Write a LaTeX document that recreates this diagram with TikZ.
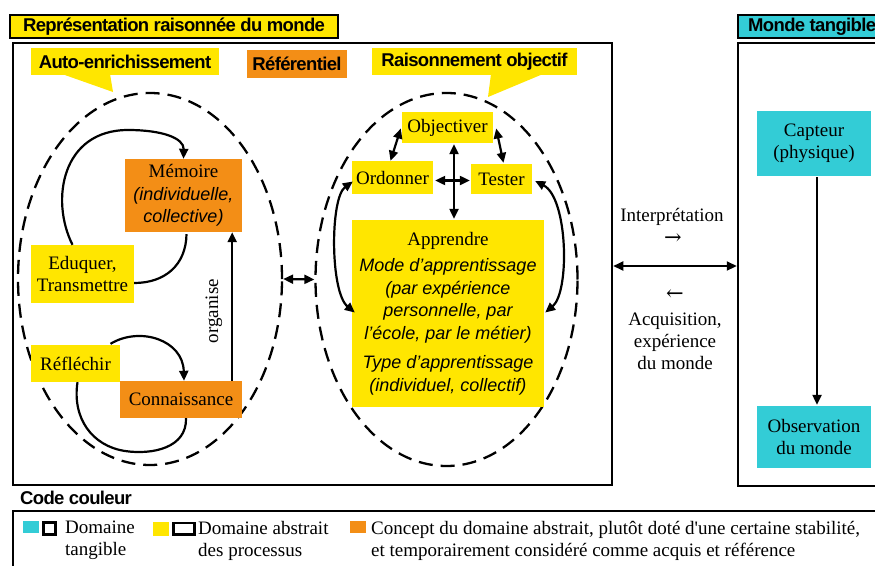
\documentclass[tikz,border=0pt]{standalone}
\usepackage{fontspec}
\setmainfont{Liberation Serif}
\setsansfont{Liberation Sans}
\newfontfamily\headfont[LetterSpace=-3.5]{Liberation Sans Bold}
\newfontfamily\arrowfont{DejaVu Serif}
\newfontfamily\plainserif{Liberation Serif}
\usetikzlibrary{arrows.meta,shapes.geometric,calc}
\definecolor{cYellow}{RGB}{255,230,0}
\definecolor{cOrange}{RGB}{243,142,22}
\definecolor{cCyan}{RGB}{51,204,214}
\newcommand{\itsans}{\sffamily\itshape\fontsize{18}{22.5}\selectfont}
\newcommand{\serifnormal}{\rmfamily\upshape\fontsize{19}{22}\selectfont}
\newcommand{\straightq}{{\plainserif'}}

\begin{document}
\begin{tikzpicture}[x=1pt,y=-1pt,
  every node/.style={font=\serifnormal, inner sep=0pt, align=center},
  ybox/.style={fill=cYellow},
  obox/.style={fill=cOrange},
  cbox/.style={fill=cCyan},
  frame/.style={draw=black, line width=2.5pt},
  headtext/.style={font=\headfont\fontsize{18.5}{20}\selectfont},
  glyph/.style={font=\arrowfont\fontsize{21}{21}\selectfont},
  tip/.style={-{Triangle[length=10pt,width=9pt]}},
  arr/.style={line width=2.2pt, -{Triangle[length=10pt,width=9pt]}},
  darr/.style={line width=2.2pt, {Triangle[length=10pt,width=9pt]}-{Triangle[length=10pt,width=9pt]}},
  loop/.style={line width=2.2pt},
  zone/.style={ellipse, draw=black, line width=2.3pt, dash pattern=on 14pt off 8pt, inner sep=0pt}
]
\useasboundingbox (0,0) rectangle (875,565);

% --- frames and their headings
\node[frame, minimum width=599, minimum height=442] (main) at (312.5,264) {};
\node[frame, minimum width=170, minimum height=443] (tang) at (823,264.5) {};
\node[frame, fill=cYellow, minimum width=328, minimum height=23] (t1) at (174,26.5) {};
\node[headtext] (t1txt) at (t1) {Représentation raisonnée du monde};
\node[frame, fill=cCyan, minimum width=170, minimum height=23] (t2) at (823,26.5) {};
\node[headtext, anchor=west] (t2txt) at (748,26.5) {Monde tangible};

% --- callouts
\fill[cYellow] (62,74) -- (113,92) -- (110,74) -- cycle;
\node[ybox, headtext, minimum width=188, minimum height=27] (auto) at (125,61.5) {Auto-enrichissement};
\node[obox, headtext, minimum width=100, minimum height=28] (refer) at (297,64) {Référentiel};
\fill[cYellow] (491,74) -- (488,97) -- (543,74) -- cycle;
\node[ybox, headtext, minimum width=205, minimum height=27] (raison) at (474.5,61.5) {Raisonnement objectif};

% --- the two dashed zones
\node[zone, minimum width=264, minimum height=372] (lell) at (150,279) {};
\node[zone, minimum width=262, minimum height=373] (rell) at (446.5,279.5) {};
\draw[darr] (lell.east) -- (rell.west);

% --- auto-enrichissement
\node[obox, minimum width=117, minimum height=73, font=\itsans] (mem) at (183.5,195.5)
  {{\serifnormal Mémoire}\\(individuelle,\\collective)};
\node[ybox, minimum width=103, minimum height=58] (edu) at (82.5,274) {Eduquer,\\Transmettre};
\node[ybox, minimum width=89, minimum height=37] (ref) at (75.5,363.5) {Réfléchir};
\node[obox, minimum width=122, minimum height=37] (conn) at (181,399.5) {Connaissance};

\draw[loop] ($(mem.south)+(3,2)$) .. controls (186,265) and (165,283) .. ($(edu.east)+(0,9)$);
\draw[loop, tip] ($(edu.north)+(-10,0)$) .. controls (50,200) and (62,130) .. (128,130)
  .. controls (162,130) and (184,138) .. (mem.north);
\draw[loop] ($(conn.south)+(5,0)$) .. controls (187,448) and (152,455) .. (125,451)
  .. controls (92,446) and (72,418) .. ($(ref.south)+(2,0)$);
\draw[loop, tip] ($(ref.north)+(35,-1)$) .. controls (140,326) and (183,340) .. ($(conn.north)+(3,0)$);

\draw[arr] ($(conn.north east)+(-10,0)$) -- ($(mem.south east)+(-10,0)$);
\node[rotate=90] (orgl) at (214,311) {organise};

% --- raisonnement objectif
\node[ybox, minimum width=91, minimum height=31] (obj) at (447.5,127.5) {Objectiver};
\node[ybox, minimum width=81, minimum height=33] (ord) at (392.5,177.5) {Ordonner};
\node[ybox, minimum width=61, minimum height=30] (tes) at (501.5,179) {Tester};
\node[ybox, minimum width=192, minimum height=187, font=\itsans] (app) at (448,313.5)
  {{\serifnormal Apprendre}\\[4pt]Mode d’apprentissage\\(par expérience\\personnelle, par\\l’école, par le métier)\\[7pt]Type d’apprentissage\\(individuel, collectif)};

\draw[darr] ($(obj.west)+(-1,1)$) -- ($(ord.north)+(-2,0)$);
\draw[darr] ($(obj.east)+(3,1)$) -- ($(tes.north)+(2,-1)$);
\draw[darr] ($(obj.south)+(6.5,1)$) -- ($(obj.south |- app.north)+(6.5,-1)$);
\draw[darr] ($(ord.east)+(2,3)$) -- ($(ord.east -| tes.west)+(-1,3)$);
\draw[darr] ($(ord.west)+(1,4)$) .. controls (330,198) and (330,292) .. ($(app.west)+(3,-1)$);
\draw[darr] ($(tes.east)+(3,2)$) .. controls (568,198) and (570,292) .. ($(app.east)+(1,-1)$);

% --- exchange between the two worlds
\draw[darr] ($(main.east)+(0,2)$) -- ($(main.east -| tang.west)+(0,2)$);
\node (interp) at (672,217) {Interprétation};
\node[glyph] (rarr) at (673,239) {→};
\node[glyph] (larr) at (675,295) {←};
\node (acq) at (675,341) {Acquisition,\\expérience\\du monde};

% --- monde tangible
\node[cbox, minimum width=114, minimum height=65] (capt) at (814,143.5) {Capteur\\(physique)};
\node[cbox, minimum width=114, minimum height=62] (obs) at (814,437) {Observation\\du monde};
\draw[arr] ($(capt.south)+(3,1)$) -- ($(obs.north)+(3,-1)$);

% --- colour key
\node[headtext, anchor=west] (keyt) at (20,498) {Code couleur};
\draw[frame] (13,600) -- (13,511) -- (890,511);
\fill[cCyan] (23,521) rectangle (39,533);
\draw[line width=2.3pt] (43.5,522.5) rectangle (55.5,534.5);
\node[anchor=west, align=left] (k1) at (65,540.5) {Domaine\\tangible};
\fill[cYellow] (153,522) rectangle (169,536);
\draw[line width=2.3pt] (173.5,523) rectangle (194.5,534.5);
\node[anchor=west, align=left] (k2) at (198,540.5) {Domaine abstrait\\des processus};
\fill[cOrange] (350,521) rectangle (366,533);
\node[anchor=west, align=left] (k3) at (371,540.5) {Concept du domaine abstrait, plutôt doté d\straightq une certaine stabilité,\\et temporairement considéré comme acquis et référence};
\end{tikzpicture}
\end{document}
